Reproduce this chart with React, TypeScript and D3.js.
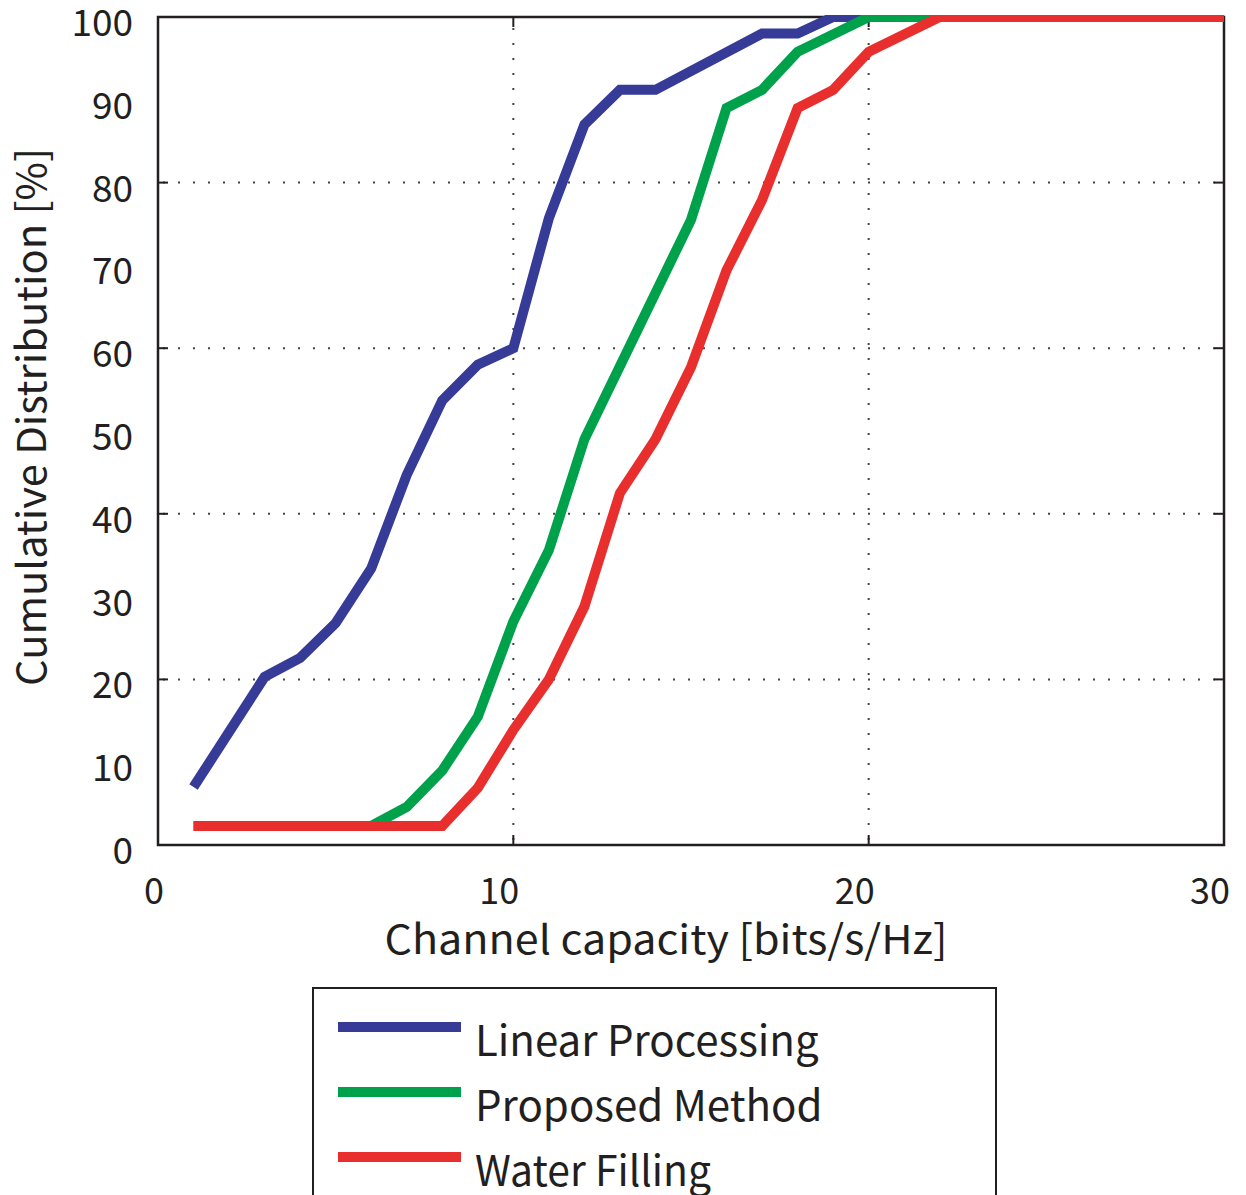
import * as d3 from 'd3';

// capacity [bits/s/Hz] vs cumulative distribution [%]
const linearX = [1, 3, 4, 5, 6, 7, 8, 9, 10, 11, 12, 13, 14, 17, 18, 19, 30];
const linearY = [7, 20.3, 22.6, 26.8, 33.4, 44.7, 53.7, 58, 60, 75.7, 87, 91.2, 91.2, 98, 98, 100, 100];

const proposedX = [1, 6, 7, 8, 9, 10, 11, 12, 15, 16, 17, 18, 20, 30];
const proposedY = [2.3, 2.3, 4.6, 9, 15.5, 27, 35.6, 49, 75.5, 89, 91.2, 95.8, 100, 100];

const waterX = [1, 8, 9, 10, 11, 12, 13, 14, 15, 16, 17, 18, 19, 20, 22, 30];
const waterY = [2.3, 2.3, 6.9, 13.9, 20, 28.8, 42.5, 49, 57.7, 69.4, 77.9, 89, 91.2, 95.8, 100, 100];

const seriesNames = ['Linear Processing', 'Proposed Method', 'Water Filling'];
const seriesColors = ['#353b96', '#00a14b', '#e92e2e'];

const xTicks = [0, 10, 20, 30];
const yLabels = [0, 10, 20, 30, 40, 50, 60, 70, 80, 90, 100];
const yGrid = [20, 40, 60, 80];
const xGrid = [10, 20];

const W = 1246;
const H = 1195;
const m = { left: 158, right: 22, top: 17, bottom: 350 };
const FONT = '"Noto Sans CJK JP", "Noto Sans", sans-serif';

export default function App() {
  const x = d3.scaleLinear().domain([0, 30]).range([m.left, W - m.right]);
  const y = d3.scaleLinear().domain([0, 100]).range([H - m.bottom, m.top]);
  const x0 = x(0), x1 = x(30), y0 = y(0), y1 = y(100);

  const line = d3
    .line<[number, number]>()
    .x((d) => x(d[0]))
    .y((d) => y(d[1]));

  const series = [
    d3.zip(linearX, linearY) as [number, number][],
    d3.zip(proposedX, proposedY) as [number, number][],
    d3.zip(waterX, waterY) as [number, number][],
  ];

  const ink = '#231f20';
  const tick = 10;

  return (
    <svg
      width={W}
      height={H}
      style={{ position: 'absolute', left: 0, top: 0, background: '#fff' }}
      fontFamily={FONT}
    >
      <defs>
        <clipPath id="plotClip">
          <rect x={x0 - 10} y={y1 - 2} width={x1 - x0 + 12} height={y0 - y1 + 12} />
        </clipPath>
      </defs>

      {/* dotted grid */}
      {yGrid.map((v) => (
        <line key={'gy' + v} x1={x0} x2={x1} y1={y(v)} y2={y(v)} stroke="#444" strokeWidth={2} strokeDasharray="2,13" strokeDashoffset={-5} />
      ))}
      {xGrid.map((v) => (
        <line key={'gx' + v} x1={x(v)} x2={x(v)} y1={y0} y2={y1} stroke="#444" strokeWidth={2} strokeDasharray="2,13" strokeDashoffset={-5} />
      ))}

      {/* frame */}
      <rect x={x0} y={y1} width={x1 - x0} height={y0 - y1} fill="none" stroke={ink} strokeWidth={2.5} />

      {/* inner ticks */}
      {yGrid.map((v) => (
        <g key={'ty' + v}>
          <line x1={x0} x2={x0 + tick} y1={y(v)} y2={y(v)} stroke={ink} strokeWidth={2} />
          <line x1={x1} x2={x1 - tick} y1={y(v)} y2={y(v)} stroke={ink} strokeWidth={2} />
        </g>
      ))}
      {xGrid.map((v) => (
        <g key={'tx' + v}>
          <line x1={x(v)} x2={x(v)} y1={y0} y2={y0 - tick} stroke={ink} strokeWidth={2} />
          <line x1={x(v)} x2={x(v)} y1={y1} y2={y1 + tick} stroke={ink} strokeWidth={2} />
        </g>
      ))}

      {/* curves */}
      <g clipPath="url(#plotClip)">
        {series.map((s, i) => (
          <path
            key={seriesNames[i]}
            d={line(s) ?? ''}
            fill="none"
            stroke={seriesColors[i]}
            strokeWidth={10}
            strokeLinecap="butt"
            strokeLinejoin="miter"
          />
        ))}
      </g>

      {/* y tick labels */}
      {yLabels.map((v) => (
        <text key={'ly' + v} x={133} y={y(v) + 19} textAnchor="end" fontSize={37} fill={ink}>
          {v}
        </text>
      ))}

      {/* x tick labels */}
      {xTicks.map((v) => (
        <text key={'lx' + v} x={x(v) + 6} y={904} textAnchor="end" fontSize={36} fill={ink}>
          {v}
        </text>
      ))}

      {/* axis titles */}
      <text x={666} y={954} textAnchor="middle" fontSize={40} fill={ink} textLength={563} lengthAdjust="spacingAndGlyphs">
        Channel capacity [bits/s/Hz]
      </text>
      <text
        transform={`translate(46,417) rotate(-90)`}
        textAnchor="middle"
        fontSize={40}
        fill={ink}
        textLength={538}
        lengthAdjust="spacingAndGlyphs"
      >
        Cumulative Distribution [%]
      </text>

      {/* legend */}
      <rect x={313} y={988} width={683} height={240} fill="#fff" stroke={ink} strokeWidth={2} />
      {seriesNames.map((name, i) => (
        <g key={'lg' + name}>
          <line x1={338} x2={461} y1={1027 + i * 65} y2={1027 + i * 65} stroke={seriesColors[i]} strokeWidth={10} />
          <text x={475} y={1056 + i * 65} fontSize={42} fill={ink} textLength={i === 2 ? 236 : undefined} lengthAdjust="spacingAndGlyphs">
            {name}
          </text>
        </g>
      ))}
    </svg>
  );
}
